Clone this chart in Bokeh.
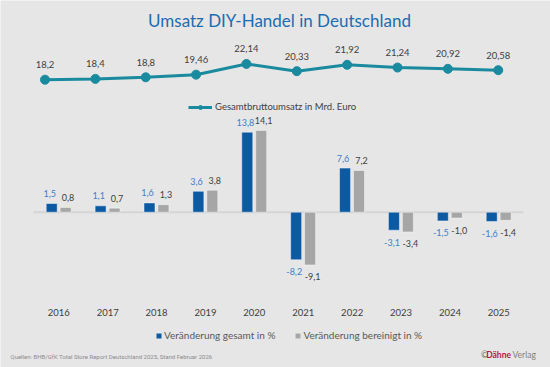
from bokeh.plotting import figure
from bokeh.models import Range1d, ColumnDataSource, Label, Legend, LegendItem
from bokeh.transform import dodge
from bokeh.core.properties import value
from bokeh.embed import file_html
from bokeh.resources import INLINE

# ---------------- data ----------------
years = [2016, 2017, 2018, 2019, 2020, 2021, 2022, 2023, 2024, 2025]
umsatz = [18.2, 18.4, 18.8, 19.46, 22.14, 20.33, 21.92, 21.24, 20.92, 20.58]
veraenderung_gesamt = [1.5, 1.1, 1.6, 3.6, 13.8, -8.2, 7.6, -3.1, -1.5, -1.6]
veraenderung_bereinigt = [0.8, 0.7, 1.3, 3.8, 14.1, -9.1, 7.2, -3.4, -1.0, -1.4]
year_labels = [str(y) for y in years]

title_text = "Umsatz DIY-Handel in Deutschland"
line_legend = "Gesamtbruttoumsatz in Mrd. Euro"
bar_legend_1 = "Veränderung gesamt in %"
bar_legend_2 = "Veränderung bereinigt in %"
source_text = "Quellen: BHB/GfK Total Store Report Deutschland 2025, Stand Februar 2026"

# ---------------- layout / style ----------------
W, H = 550, 367
BG = "#e6e6e6"
TEAL = "#1a8b9f"
BLUE = "#0c5aa2"
GREY = "#a6a6a6"
BLUE_TXT = "#3f7ec6"
DARK_TXT = "#404040"
FONT = "Lato"

# bar chart scale (pixels)
BAR_X0_PX, BAR_STEP = 58.3, 48.89
ZERO_PX, BAR_PX_PER_UNIT = 211.7, 5.8
# line chart scale
LINE_X0_PX, LINE_STEP = 44.5, 50.36
LINE_REF_VAL, LINE_REF_PX, LINE_PX_PER_UNIT = 18.0, 80.0, 4.0

bx0 = years[0] - BAR_X0_PX / BAR_STEP
lx0 = years[0] - LINE_X0_PX / LINE_STEP

p = figure(width=W, height=H,
           x_range=Range1d(bx0, bx0 + W / BAR_STEP),
           y_range=Range1d(-(H - ZERO_PX) / BAR_PX_PER_UNIT, ZERO_PX / BAR_PX_PER_UNIT),
           x_axis_type=None, y_axis_type=None,
           output_backend="svg", toolbar_location=None,
           min_border=0, background_fill_color=BG, border_fill_color=BG,
           outline_line_color=None)
p.extra_x_ranges = {"line": Range1d(lx0, lx0 + W / LINE_STEP),
                    "px": Range1d(0, W)}
p.extra_y_ranges = {"line": Range1d(LINE_REF_VAL - (H - LINE_REF_PX) / LINE_PX_PER_UNIT,
                                    LINE_REF_VAL + LINE_REF_PX / LINE_PX_PER_UNIT),
                    "px": Range1d(H, 0)}

# ---------------- line chart ----------------
lsrc = ColumnDataSource(dict(year=years, val=umsatz,
                             lbl=[str(v).replace(".", ",") for v in umsatz]))
line_r = p.line("year", "val", source=lsrc, x_range_name="line", y_range_name="line",
                line_color=TEAL, line_width=3)
circ_r = p.scatter("year", "val", source=lsrc, x_range_name="line", y_range_name="line",
                   size=9, fill_color=TEAL, line_color=TEAL)
p.text("year", "val", text="lbl", source=lsrc, x_range_name="line", y_range_name="line",
       y_offset=-15, text_align="center", text_baseline="middle",
       text_font=value(FONT), text_font_size="9.5px", text_color=DARK_TXT)

# ---------------- bars ----------------
def fmt(v):
    return f"{v:.1f}".replace(".", ",")

bsrc = ColumnDataSource(dict(
    year=years, ylbl=year_labels, g=veraenderung_gesamt, b=veraenderung_bereinigt,
    g_lbl=[fmt(v) for v in veraenderung_gesamt],
    b_lbl=[fmt(v) for v in veraenderung_bereinigt],
    g_off=[-10 if v >= 0 else 12 for v in veraenderung_gesamt],
    b_off=[-10 if v >= 0 else 12 for v in veraenderung_bereinigt],
    zero=[0] * len(years),
))

p.segment(x0=years[0] - 0.52, x1=years[-1] + 0.5, y0=0, y1=0,
          line_color="#d5d5d5", line_width=2)

DG, DB, BW = -0.145, 0.14, 0.225
blue_r = p.vbar(x=dodge("year", DG), top="g", bottom=0, width=BW, source=bsrc,
                fill_color=BLUE, line_color="white", line_alpha=0.45, line_width=1)
grey_r = p.vbar(x=dodge("year", DB), top="b", bottom=0, width=BW, source=bsrc,
                fill_color=GREY, line_color="white", line_alpha=0.45, line_width=1)

p.text(x=dodge("year", DG - 0.04), y="g", text="g_lbl", y_offset="g_off", source=bsrc,
       text_align="center", text_baseline="middle", text_font=value(FONT),
       text_font_size="9px", text_color=BLUE_TXT)
p.text(x=dodge("year", DB + 0.05), y="b", text="b_lbl", y_offset="b_off", source=bsrc,
       text_align="center", text_baseline="middle", text_font=value(FONT),
       text_font_size="9px", text_color=DARK_TXT)

# year labels (category axis)
p.text(x="year", y="zero", text="ylbl", y_offset=100, source=bsrc,
       text_align="center", text_baseline="middle", text_font=value(FONT),
       text_font_size="9.5px", text_color=DARK_TXT)

# ---------------- legends ----------------
leg1 = Legend(items=[LegendItem(label=line_legend, renderers=[line_r, circ_r])],
              location=(188, 255), orientation="horizontal",
              glyph_width=24, glyph_height=10, label_height=10, label_standoff=3,
              padding=0, margin=0, border_line_color=None, background_fill_alpha=0,
              label_text_font=FONT, label_text_font_size="9.5px",
              label_text_color=DARK_TXT)
leg2 = Legend(items=[LegendItem(label=bar_legend_1, renderers=[blue_r]),
                     LegendItem(label=bar_legend_2, renderers=[grey_r])],
              location=(155, 26), orientation="horizontal",
              glyph_width=7, glyph_height=7, label_height=10, label_standoff=2,
              spacing=19, padding=0, margin=0, border_line_color=None,
              background_fill_alpha=0,
              label_text_font=FONT, label_text_font_size="10px",
              label_text_color="#595959")
p.add_layout(leg1)
p.add_layout(leg2)

# ---------------- title & footer ----------------
p.add_layout(Label(x=279, y=20, x_range_name="px", y_range_name="px", text=title_text,
                   text_align="center", text_baseline="middle", text_font=FONT,
                   text_font_size="17px", text_color="#1c6cb2"))
p.add_layout(Label(x=10, y=355.7, x_range_name="px", y_range_name="px", text=source_text,
                   text_align="left", text_baseline="middle", text_font="Roboto",
                   text_font_size="6px", text_color="#8c8c8c"))
p.add_layout(Label(x=487.5, y=354.3, x_range_name="px", y_range_name="px", text="©",
                   text_align="right", text_baseline="middle", text_font=FONT,
                   text_font_size="8.5px", text_color="#707070"))
p.add_layout(Label(x=510.5, y=354.3, x_range_name="px", y_range_name="px", text="Dähne",
                   text_align="right", text_baseline="middle", text_font=FONT,
                   text_font_style="bold", text_font_size="8.5px", text_color="#b3203f"))
p.add_layout(Label(x=512, y=354.3, x_range_name="px", y_range_name="px", text="Verlag",
                   text_align="left", text_baseline="middle", text_font=FONT,
                   text_font_size="8.5px", text_color="#808080"))

open("out.html", "w").write(file_html(p, INLINE))
